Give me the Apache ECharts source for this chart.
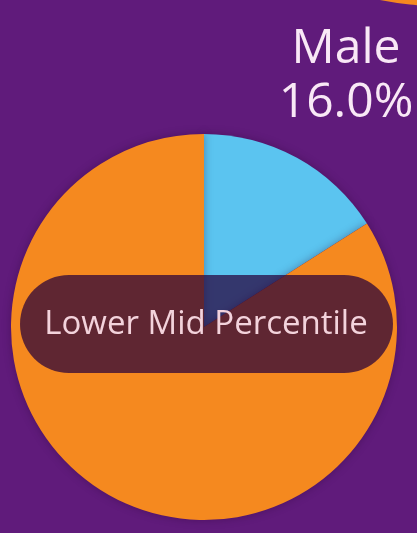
<!DOCTYPE html>
<html>
<head>
<meta charset="utf-8">
<script src="https://cdn.jsdelivr.net/npm/echarts@6/dist/echarts.min.js"></script>
<style>
  html, body { margin: 0; padding: 0; background: #601b7b; }
  #chart { width: 417px; height: 533px; }
</style>
</head>
<body>
<div id="chart"></div>
<script>
const CATEGORIES = ['Male', 'Other'];
const VALUES = [16.0, 84.0];
const COLORS = ['#5bc4f0', '#f5891f'];
const GROUP_LABEL = 'Lower Mid Percentile';

const chart = echarts.init(document.getElementById('chart'));

const total = VALUES.reduce((a, b) => a + b, 0);
const malePct = (VALUES[0] / total * 100).toFixed(1) + '%';

chart.setOption({
    backgroundColor: '#601b7b',
    animation: false,
    title: {
        text: CATEGORIES[0] + '\n' + malePct,
        left: 341,
        top: 17,
        textAlign: 'center',
        textStyle: {
            color: '#f9e8f6',
            fontFamily: 'Open Sans',
            fontWeight: 'normal',
            fontSize: 48,
            lineHeight: 54
        }
    },
    graphic: [
        {
            type: 'circle',
            shape: { cx: 440, cy: -302, r: 308 },
            style: { fill: '#f5891f' },
            z: 0
        },
        {
            type: 'rect',
            shape: { x: 20, y: 275, width: 373, height: 98, r: 49 },
            style: { fill: 'rgba(38,0,58,0.72)' },
            z: 10
        },
        {
            type: 'text',
            x: 206,
            y: 325,
            style: {
                text: GROUP_LABEL,
                fill: '#f3d3dc',
                font: '33px "Open Sans"',
                align: 'center',
                verticalAlign: 'middle'
            },
            z: 11
        }
    ],
    series: [{
        type: 'pie',
        center: [204, 327],
        radius: 193,
        startAngle: 90,
        clockwise: true,
        label: { show: false },
        labelLine: { show: false },
        emphasis: { disabled: true },
        itemStyle: {
            borderWidth: 0,
            shadowBlur: 8,
            shadowColor: 'rgba(40,0,50,0.35)'
        },
        data: CATEGORIES.map((name, i) => ({
            name: name,
            value: VALUES[i],
            itemStyle: { color: COLORS[i] }
        }))
    }]
});
</script>
</body>
</html>
